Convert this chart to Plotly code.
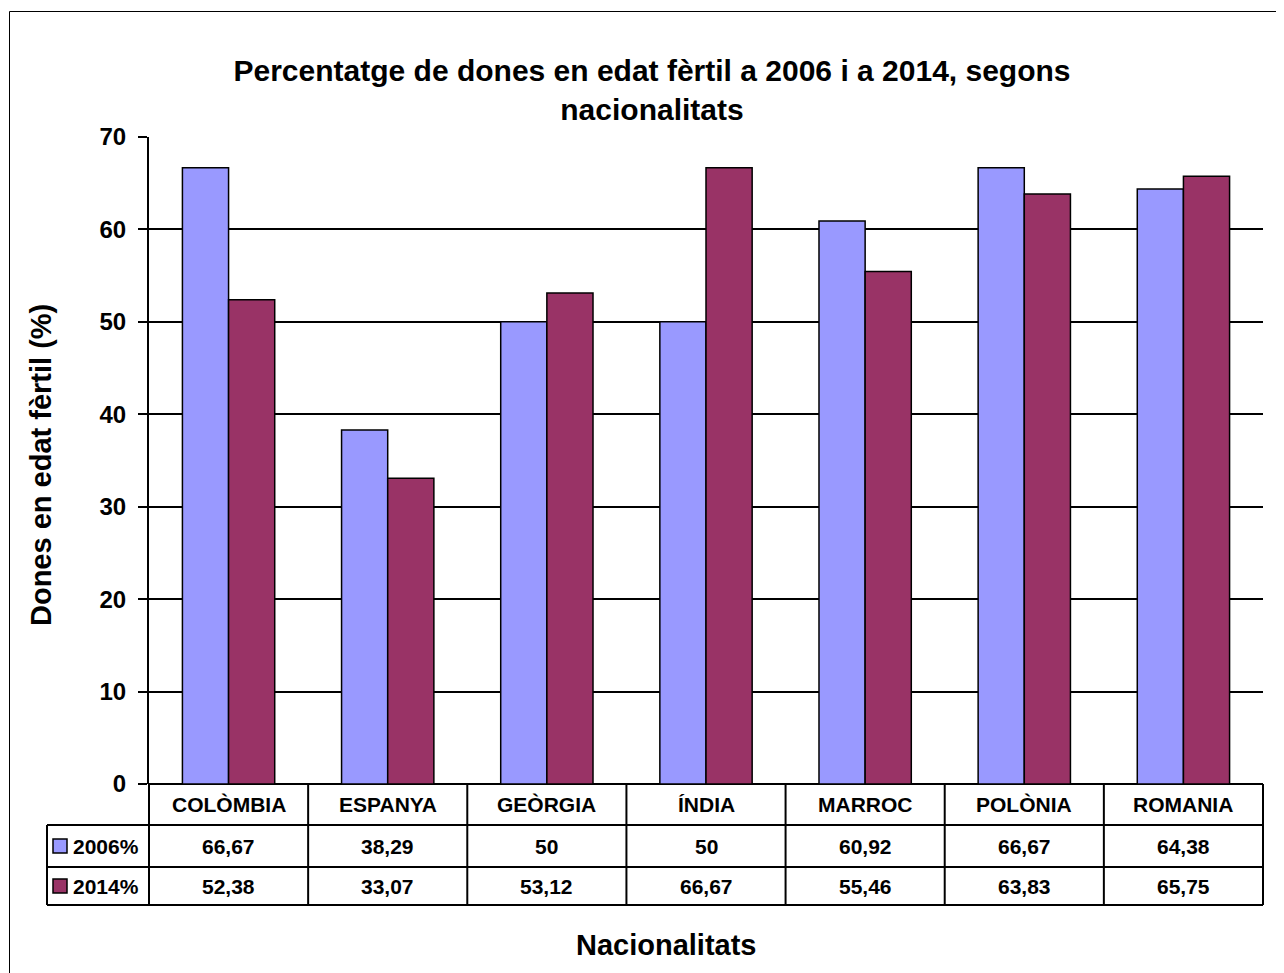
import plotly.graph_objects as go

# ---------------- data ----------------
categories = ["COLÒMBIA", "ESPANYA", "GEÒRGIA", "ÍNDIA", "MARROC", "POLÒNIA", "ROMANIA"]
series_names = ["2006%", "2014%"]
values_2006 = [66.67, 38.29, 50, 50, 60.92, 66.67, 64.38]
values_2014 = [52.38, 33.07, 53.12, 66.67, 55.46, 63.83, 65.75]
y_ticks = [0, 10, 20, 30, 40, 50, 60, 70]

title_text = "Percentatge de dones en edat fèrtil a 2006 i a 2014, segons<br>nacionalitats"
y_title = "Dones en edat fèrtil (%)"
x_title = "Nacionalitats"

# ---------------- style ----------------
COL_2006 = "#9999FF"
COL_2014 = "#993366"
FONT = "Arial, 'Liberation Sans', sans-serif"
W, H = 1284, 973
OFF = 8  # page body margin of the written html
PL, PR, PT, PB = 149 - OFF, 1263 - OFF, 137 - OFF, 784 - OFF
PW, PH = PR - PL, PB - PT
ROW_EDGES_PX = [p - OFF for p in (784, 825, 867, 905)]
LEGEND_COL_PX = 102
LINE_W = 2


def xd(px):
    return (px - OFF - PL) / PW


def yd(py):
    return (PB - (py - OFF)) / PH


def fmt(v):
    return f"{v:g}".replace(".", ",")


fig = go.Figure()
series = [values_2006, values_2014]
colors = [COL_2006, COL_2014]
for name, vals, col in zip(series_names, series, colors):
    fig.add_trace(go.Bar(
        x=categories, y=vals, name=name,
        marker=dict(color=col, line=dict(color="black", width=1.5)),
        showlegend=False,
    ))

shapes = []
n = len(categories)
leg_left = -LEGEND_COL_PX / PW
y_top, y_r1, y_r2, y_bot = [(PB - p) / PH for p in ROW_EDGES_PX]

# vertical table lines at category boundaries
for k in range(n + 1):
    shapes.append(dict(type="line", xref="x domain", yref="paper",
                       x0=k / n, x1=k / n, y0=y_top, y1=y_bot,
                       line=dict(color="black", width=LINE_W)))
# legend column left edge
shapes.append(dict(type="line", xref="x domain", yref="paper",
                   x0=leg_left, x1=leg_left, y0=y_r1, y1=y_bot,
                   line=dict(color="black", width=LINE_W)))
# horizontal row lines
for yy in [y_r1, y_r2, y_bot]:
    shapes.append(dict(type="line", xref="x domain", yref="paper",
                       x0=leg_left, x1=1, y0=yy, y1=yy,
                       line=dict(color="black", width=LINE_W)))

annotations = []
row_centers = [(y_top + y_r1) / 2, (y_r1 + y_r2) / 2, (y_r2 + y_bot) / 2]
for c in categories:
    annotations.append(dict(x=c, y=row_centers[0], xref="x", yref="paper",
                            text=c, showarrow=False, xanchor="center", yanchor="middle",
                            font=dict(family=FONT, size=21, color="black", weight="bold")))
for r, (name, vals, col) in enumerate(zip(series_names, series, colors)):
    yc = row_centers[r + 1]
    for c, v in zip(categories, vals):
        annotations.append(dict(x=c, y=yc, xref="x", yref="paper",
                                text=fmt(v), showarrow=False, xanchor="center", yanchor="middle",
                                font=dict(family=FONT, size=21, color="black", weight="bold")))
    # legend key square
    shapes.append(dict(type="rect", xref="x domain", yref="paper",
                       xsizemode="pixel", xanchor=leg_left, x0=6, x1=20,
                       ysizemode="pixel", yanchor=yc, y0=-7, y1=7,
                       fillcolor=col, line=dict(color="black", width=1.5)))
    annotations.append(dict(x=leg_left, y=yc, xref="x domain", yref="paper",
                            xshift=24, text=name, showarrow=False,
                            xanchor="left", yanchor="middle",
                            font=dict(family=FONT, size=21, color="black", weight="bold")))

# axis titles
annotations.append(dict(x=xd(41), y=yd(465), xref="paper", yref="paper",
                        text=y_title, textangle=-90, showarrow=False,
                        xanchor="center", yanchor="middle",
                        font=dict(family=FONT, size=29, color="black", weight="bold")))
annotations.append(dict(x=xd(666), y=yd(945), xref="paper", yref="paper",
                        text=x_title, showarrow=False,
                        xanchor="center", yanchor="middle",
                        font=dict(family=FONT, size=29, color="black", weight="bold")))

# outer chart border
shapes.append(dict(type="rect", xref="paper", yref="paper",
                   x0=xd(9.5), x1=xd(1300), y0=yd(11.5), y1=yd(990),
                   line=dict(color="black", width=1), fillcolor="rgba(0,0,0,0)", layer="below"))

fig.update_layout(
    width=W, height=H,
    margin=dict(l=PL, r=W - PR, t=PT, b=H - PB, autoexpand=False),
    paper_bgcolor="white", plot_bgcolor="white",
    barmode="group", bargap=0.42, bargroupgap=0,
    title=dict(text=title_text, x=(652 - OFF) / W, xref="container", xanchor="center",
               y=1 - 73 / H, yref="container", yanchor="middle",
               font=dict(family=FONT, size=30, color="black", weight="bold")),
    xaxis=dict(showticklabels=False, ticks="", showline=False, showgrid=False,
               zeroline=False, range=[-0.5, n - 0.5]),
    yaxis=dict(range=[0, 70], tickvals=y_ticks, ticks="outside", ticklen=9, tickwidth=2,
               tickcolor="black", showline=True, linecolor="black", linewidth=2,
               showgrid=True, gridcolor="black", gridwidth=2,
               zeroline=True, zerolinecolor="black", zerolinewidth=2,
               ticklabelstandoff=7,
               tickfont=dict(family=FONT, size=24, color="black", weight="bold")),
    shapes=shapes, annotations=annotations,
    font=dict(family=FONT, color="black"),
)

fig.write_html("out.html")
